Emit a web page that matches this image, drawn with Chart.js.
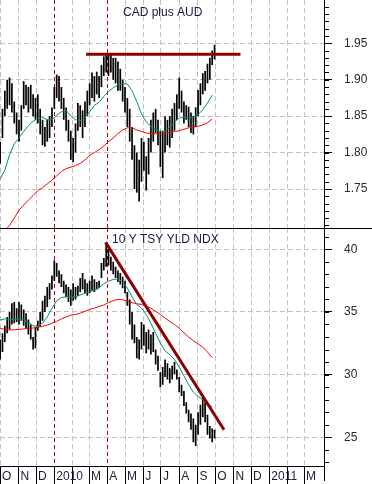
<!DOCTYPE html>
<html>
<head>
<meta charset="utf-8">
<script src="https://cdn.jsdelivr.net/npm/chart.js@4.4.1/dist/chart.umd.min.js"></script>
<style>
  html, body { margin: 0; padding: 0; background: #fff; }
  #wrap { position: relative; width: 372px; height: 484px; overflow: hidden; }
  #top { position: absolute; left: 0; top: 0; }
  #bot { position: absolute; left: 0; top: 228px; }
</style>
</head>
<body>
<div id="wrap">
  <canvas id="top" width="372" height="228"></canvas>
  <canvas id="bot" width="372" height="256"></canvas>
</div>
<script>
// ---- data ----
// bars every 4 calendar days from 2009-10-01, moving averages every 8 days
const BAR_STEP = 4;
const MA_STEP = 8;

const cadLow = [1.785,1.82,1.85,1.86,1.865,1.855,1.84,1.825,1.815,1.83,
  1.86,1.865,1.855,1.86,1.85,1.845,1.84,1.825,1.81,1.808,
  1.815,1.82,1.835,1.86,1.875,1.87,1.86,1.845,1.83,1.815,
  1.79,1.787,1.80,1.83,1.835,1.82,1.835,1.85,1.865,1.875,
  1.87,1.88,1.875,1.89,1.905,1.91,1.905,1.91,1.90,1.895,
  1.885,1.885,1.87,1.855,1.835,1.815,1.79,1.75,1.745,1.733,
  1.76,1.775,1.748,1.77,1.80,1.815,1.827,1.81,1.78,1.765,
  1.80,1.81,1.807,1.82,1.83,1.845,1.86,1.855,1.84,1.845,
  1.835,1.827,1.825,1.835,1.85,1.865,1.88,1.885,1.895,1.90,
  1.92,1.928];
const cadHigh = [1.815,1.86,1.885,1.90,1.903,1.895,1.87,1.855,1.845,1.865,
  1.898,1.893,1.89,1.893,1.88,1.875,1.88,1.86,1.845,1.835,
  1.845,1.85,1.862,1.89,1.907,1.905,1.89,1.875,1.862,1.845,
  1.83,1.82,1.84,1.868,1.865,1.858,1.87,1.885,1.895,1.91,
  1.905,1.911,1.905,1.92,1.932,1.935,1.934,1.935,1.93,1.93,
  1.925,1.915,1.90,1.89,1.875,1.86,1.835,1.81,1.80,1.79,
  1.82,1.815,1.795,1.82,1.845,1.855,1.86,1.845,1.83,1.83,
  1.85,1.845,1.85,1.86,1.868,1.88,1.903,1.885,1.87,1.865,
  1.863,1.855,1.85,1.862,1.886,1.895,1.909,1.912,1.922,1.93,
  1.94,1.948];
const cadMa50 = [1.764,1.776,1.797,1.812,1.820,1.829,1.837,1.843,1.847,1.848,
  1.845,1.845,1.851,1.856,1.858,1.850,1.845,1.844,1.848,1.856,
  1.865,1.869,1.877,1.884,1.889,1.893,1.895,1.894,1.885,1.870,
  1.853,1.842,1.836,1.832,1.828,1.829,1.835,1.842,1.847,1.849,
  1.848,1.848,1.852,1.859,1.868,1.879];
const cadMa200 = [1.686,1.693,1.700,1.710,1.721,1.728,1.735,1.741,1.748,1.752,
  1.757,1.762,1.768,1.774,1.778,1.780,1.782,1.785,1.790,1.796,
  1.800,1.804,1.809,1.815,1.820,1.826,1.831,1.834,1.834,1.831,
  1.829,1.827,1.826,1.826,1.825,1.827,1.828,1.829,1.830,1.832,
  1.834,1.835,1.836,1.838,1.841,1.846];

const tsyLow = [31.2,31.8,32.6,33.3,33.6,34.0,34.1,34.2,34.0,34.3,
  33.9,33.7,33.2,32.8,32.0,32.1,33.5,33.8,34.3,35.0,
  35.4,36.0,36.8,37.5,37.8,37.3,37.0,36.5,36.2,35.8,
  35.5,35.9,36.0,36.3,36.6,36.8,36.5,36.3,36.5,36.7,
  36.6,36.8,36.9,37.7,38.3,38.6,38.7,38.3,38.0,37.7,
  37.4,37.2,36.9,36.5,35.5,34.0,32.8,32.5,31.3,31.2,
  32.0,32.3,31.7,32.0,31.6,31.8,30.8,30.3,29.0,29.2,
  29.8,29.6,29.3,29.6,30.0,29.6,28.6,28.3,27.5,26.9,
  26.2,25.6,24.6,24.3,25.2,26.0,26.6,26.2,25.2,24.9,
  24.6,24.9];
const tsyHigh = [32.8,33.3,33.9,34.6,35.0,35.7,35.8,35.3,35.8,35.6,
  35.2,34.9,34.4,34.0,33.0,33.8,34.3,35.0,35.9,36.3,
  37.0,37.3,37.9,39.1,38.9,38.3,38.0,37.5,37.2,37.0,
  36.8,37.3,37.0,37.1,37.7,38.1,37.6,37.3,37.5,37.9,
  37.6,37.4,37.5,38.9,39.3,40.5,40.0,39.4,39.0,38.6,
  38.3,38.1,37.8,37.5,36.6,36.0,35.0,34.0,33.0,32.8,
  34.2,34.0,33.4,33.6,33.2,33.4,32.0,31.5,30.2,30.6,
  31.2,30.9,30.5,30.7,31.0,30.4,29.8,29.2,28.7,27.8,
  27.2,26.9,26.5,26.0,27.0,27.6,28.2,27.8,26.8,25.9,
  25.7,25.6];
const tsyMa50 = [34.35,34.45,34.4,34.4,34.45,34.4,34.15,33.9,33.85,34.1,
  34.6,35.3,35.9,36.15,36.2,36.2,36.2,36.35,36.5,36.6,
  36.75,36.95,37.25,37.45,37.6,37.62,37.4,36.9,36.2,35.6,
  35.3,34.8,34.1,33.3,32.5,31.9,31.6,31.2,30.6,29.9,
  29.2,28.6,28.25,28.0,27.7,27.4];
const tsyMa200 = [33.7,33.6,33.56,33.58,33.6,33.65,33.7,33.72,33.78,33.85,
  33.95,34.1,34.25,34.45,34.6,34.75,34.8,34.9,35.05,35.2,
  35.3,35.45,35.55,35.75,35.9,36.0,35.98,35.85,35.75,35.65,
  35.6,35.45,35.3,35.05,34.8,34.5,34.25,34.0,33.7,33.35,
  33.0,32.7,32.45,32.2,31.8,31.35];

const cadResistanceDates = ['2010-02-24', '2010-11-13'];
const cadResistanceLevels = [1.935, 1.935];
const tsyTrendDates = ['2010-03-29', '2010-10-16'];
const tsyTrendLevels = [40.55, 25.6];

const eventDates = ['2010-01-01', '2010-04-01'];
const monthTicks = ['2009-10-01','2009-11-01','2009-12-01','2010-01-01','2010-02-01','2010-03-01',
  '2010-04-01','2010-05-01','2010-06-01','2010-07-01','2010-08-01','2010-09-01',
  '2010-10-01','2010-11-01','2010-12-01','2011-01-01','2011-02-01','2011-03-01'];
const monthLabels = ['O','N','D','2010','','M','A','M','J','J','A','S','O','N','D','2011','','M'];

const cadTicks = [1.75, 1.80, 1.85, 1.90, 1.95];
const tsyTicks = [25, 30, 35, 40];

// ---- helpers ----
const START = Date.UTC(2009, 9, 1);
function dayOf(s) {
  const [y, m, d] = s.split('-').map(Number);
  return (Date.UTC(y, m - 1, d) - START) / 864e5;
}
const eventDays = eventDates.map(dayOf);
const bars = (lo, hi) => lo.map((v, i) => ({ x: i * BAR_STEP, y: [v, hi[i]] }));
const ma = arr => arr.map((v, i) => ({ x: i * MA_STEP, y: v }));
const seg = (dates, vals) => dates.map((d, i) => ({ x: dayOf(d), y: vals[i] }));

const FONT = '"Liberation Sans", Arial, sans-serif';
Chart.defaults.font.family = FONT;
Chart.defaults.font.size = 12;
const GRID = '#c2c2c2';

// red event lines, minor ticks, titles, panel separator
const decor = {
  id: 'decor',
  beforeDatasetsDraw(chart, args, o) {
    const { ctx, chartArea: a, scales: { x } } = chart;
    ctx.save();
    ctx.strokeStyle = '#b40000';
    ctx.lineWidth = 1;
    ctx.setLineDash([4, 3]);
    eventDays.forEach(d => {
      const px = Math.round(x.getPixelForValue(d)) + 0.5;
      ctx.beginPath();
      ctx.moveTo(px, a.top);
      ctx.lineTo(px, a.bottom);
      ctx.stroke();
    });
    ctx.restore();
  },
  afterDraw(chart, args, o) {
    const { ctx, chartArea: a, scales: { y } } = chart;
    ctx.save();
    ctx.strokeStyle = '#000';
    ctx.lineWidth = 1;
    ctx.beginPath();
    for (let k = o.minorFrom; k <= o.minorTo; k++) {
      const py = Math.round(y.getPixelForValue(k * o.minorStep)) + 0.5;
      if (py < a.top || py > a.bottom) continue;
      ctx.moveTo(a.right, py);
      ctx.lineTo(a.right + 5, py);
    }
    if (o.separator) {
      ctx.moveTo(0, a.top + 0.5);
      ctx.lineTo(chart.width, a.top + 0.5);
      const ax = Math.round(a.right) + 0.5;
      ctx.moveTo(ax, a.bottom);
      ctx.lineTo(ax, chart.height - 3);
    }
    ctx.stroke();
    ctx.font = '12px ' + FONT;
    ctx.fillStyle = '#16163f';
    ctx.textBaseline = 'alphabetic';
    ctx.fillText(o.title, o.titleX, o.titleY);
    ctx.restore();
  }
};

function xAxis(withLabels) {
  return {
    type: 'linear',
    min: -0.2,
    max: 549.8,
    offset: false,
    afterBuildTicks: s => { s.ticks = monthTicks.map(d => ({ value: dayOf(d) })); },
    afterFit: s => { s.height = withLabels ? 17.3 : 0; s.paddingLeft = 0; s.paddingRight = 0; },
    grid: {
      offset: false,
      color: c => (c.tick && eventDays.includes(c.tick.value)) ? 'rgba(0,0,0,0)' : GRID,
      drawTicks: withLabels,
      tickLength: 18,
      tickColor: '#000',
      tickBorderDash: []
    },
    border: { display: withLabels, color: '#000', dash: [5, 3] },
    ticks: {
      display: withLabels,
      autoSkip: false,
      maxRotation: 0,
      minRotation: 0,
      align: 'start',
      labelOffset: 2,
      padding: -15,
      color: '#1b1b36',
      callback: (v, i) => monthLabels[i]
    }
  };
}

function yAxis(min, max, ticks, fmt) {
  return {
    position: 'right',
    min: min,
    max: max,
    afterBuildTicks: s => { s.ticks = ticks.map(v => ({ value: v })); },
    afterFit: s => { s.width = 48; s.paddingTop = 0; s.paddingBottom = 0; },
    grid: { color: GRID, tickLength: 8, tickColor: '#000', tickBorderDash: [] },
    border: { display: true, color: '#000', dash: [5, 3] },
    ticks: { padding: 12, color: '#2a2a2a', callback: fmt }
  };
}

function panel(id, low, high, ma50, ma200, trend, yMin, yMax, yTicks, fmt, deco, withLabels) {
  return new Chart(document.getElementById(id), {
    type: 'line',
    data: {
      datasets: [
        { type: 'line', data: trend, borderColor: '#8b0000', borderWidth: 3, pointRadius: 0, order: 0 },
        { type: 'line', data: ma50, borderColor: '#0a8c7e', borderWidth: 1, pointRadius: 0, order: 1 },
        { type: 'line', data: ma200, borderColor: '#ff0000', borderWidth: 1, pointRadius: 0, order: 2 },
        { type: 'bar', data: bars(low, high), backgroundColor: '#000', borderWidth: 0,
          barPercentage: 0.72, categoryPercentage: 1, order: 10 }
      ]
    },
    options: {
      responsive: false,
      animation: false,
      events: [],
      layout: { padding: 0 },
      scales: { x: xAxis(withLabels), y: yAxis(yMin, yMax, yTicks, fmt) },
      plugins: { legend: { display: false }, tooltip: { enabled: false }, decor: deco }
    },
    plugins: [decor]
  });
}

panel('top', cadLow, cadHigh, ma(cadMa50), ma(cadMa200), seg(cadResistanceDates, cadResistanceLevels),
  1.6965, 2.0094, cadTicks, v => v.toFixed(2),
  { title: 'CAD plus AUD', titleX: 123, titleY: 16, minorStep: 0.01, minorFrom: 170, minorTo: 200, separator: false },
  false);

panel('bot', tsyLow, tsyHigh, ma(tsyMa50), ma(tsyMa200), seg(tsyTrendDates, tsyTrendLevels),
  22.65, 41.70, tsyTicks, v => String(v),
  { title: '10 Y TSY YLD NDX', titleX: 112, titleY: 15, minorStep: 1, minorFrom: 23, minorTo: 41, separator: true },
  true);
</script>
</body>
</html>
